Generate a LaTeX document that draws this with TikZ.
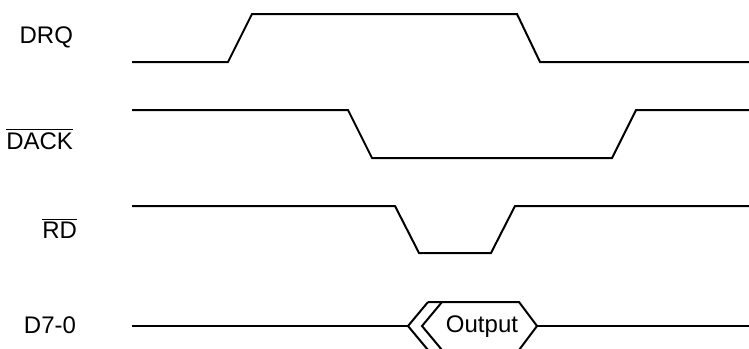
\documentclass[tikz,border=0pt]{standalone}
\usepackage{fontspec}
\setmainfont{Liberation Sans}
\begin{document}
\begin{tikzpicture}[x=0.5pt,y=-0.5pt,line width=1pt,font=\fontsize{12}{14}\selectfont]
\useasboundingbox (0,0) rectangle (749,348);
\clip (0,0) rectangle (749,348);
\draw[black] (132,62) -- (228,62) -- (252,14) -- (517,14) -- (540,62) -- (749,62);
\draw[black] (132,110) -- (348,110) -- (372,158) -- (612,158) -- (636,110) -- (749,110);
\draw[black] (132,206) -- (395,206) -- (419,253) -- (491,253) -- (515,206) -- (749,206);
\draw[black] (132,326) -- (408,326);
\draw[black] (428,302) -- (408,326) -- (428,350);
\draw[black] (442,302) -- (422,326) -- (442,350);
\draw[black] (428,302) -- (519,302) -- (537,326) -- (519,350) -- (442,350);
\draw[black] (537,326) -- (749,326);
\draw[black] (74,37) node[anchor=east, inner sep=0] (drq) {DRQ};
\draw[black] (74,139) node[anchor=east, inner sep=0] (dack) {$\overline{\mbox{DACK}}$};
\draw[black] (78,228) node[anchor=east, inner sep=0] (rd) {$\overline{\mbox{RD}}$};
\draw[black] (77,325) node[anchor=east, inner sep=0] (d70) {D7-0};
\draw[black] (482,327) node (out) {Output};
\end{tikzpicture}
\end{document}
